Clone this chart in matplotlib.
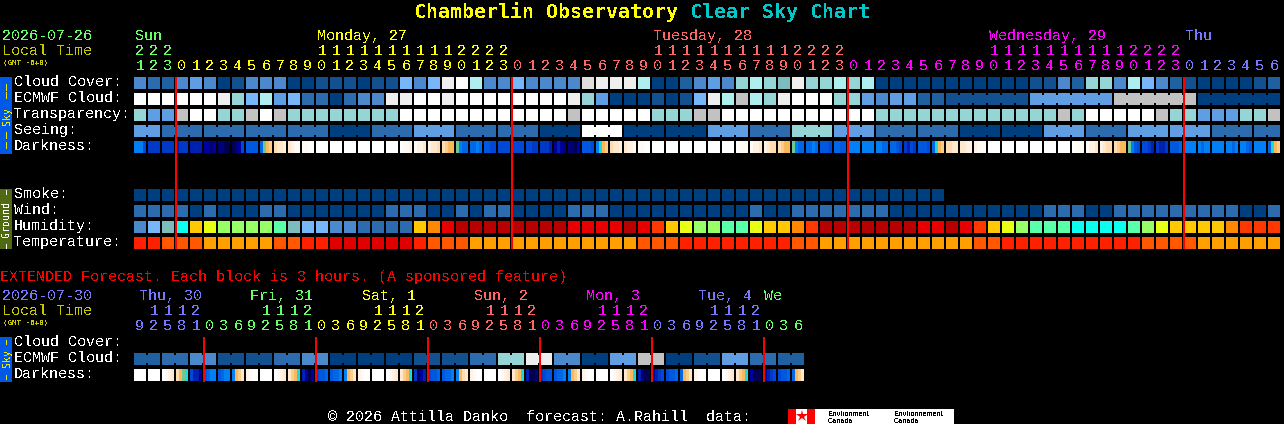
import matplotlib
matplotlib.use('Agg')
import matplotlib.pyplot as plt
import numpy as np
from matplotlib.colors import to_rgb
from matplotlib.patches import Rectangle

# block colours shared by the sky / ground rows
palette = {
    'A': '#003F7F', 'B': '#13508F', 'C': '#1F60A0', 'D': '#2C6CAE', 'E': '#4B88CC',
    'F': '#5F9EE2', 'G': '#76B6F9', 'H': '#AEEEEE', 'I': '#96D5D5', 'J': '#7CBCBC',
    'K': '#C2C2C2', 'L': '#DEDEDE', 'M': '#EEEEEE', 'W': '#FFFFFF',
    # humidity
    'a': '#B80000', 'b': '#E80000', 'c': '#FF3800', 'd': '#FF8800', 'e': '#FFC800',
    'f': '#E8FF14', 'g': '#99FF66', 'h': '#5AFFAA', 'i': '#0CFFEE',
    # temperature
    '1': '#E00000', '2': '#FF2000', '3': '#FF5800', '4': '#FFA000',
}
dark_palette = {
    'n': '#000050', 'o': '#000078', 'p': '#0000A0', 'q': '#0020B0', 'r': '#0038C8',
    's': '#0048D8', 't': '#0058E0', 'u': '#0068E8', 'v': '#0080F4',
    'x': '#20D8D8', 'y': '#70C890', 'z': '#F8B860',
    'A': '#FCCC88', 'B': '#FFDCB0', 'C': '#FFE8CC', 'D': '#FFF2E4', 'E': '#FFFAF4', 'W': '#FFFFFF',
}

# main forecast, one letter per hour, spaces are only for reading
cloud = "EDCEFEABEE EAABBBABBG EGMWHEEGEE EELMMMHAAC EFEIHIJMII HIHAAAAAAA AAAABBECII EHGECBAAAA BC"
ecmwf_hourly = "WWWWWWMIGH FGDDADEEMM WWMWWWWWWW WMIFAAABAB GMHKHIMWWW IIFEFFCC"
transparency = "IFFKWWIIKW KIIIIIIIIW WWWWWWWWWW WKWWWWWIII KKWWWWWWWW WWWIIIIIII IIIIIIKIWW WWWKIIFFFI IK"
smoke = "AAAAAAAAAA AAAAAAAAAA AAAAAAAAAA AAAAAAAAAA AAAAAAAAAA AAAAAAAA"
wind = "DDDDADAAAD DAAAAAAADD DAADADDAAA ADDDAAAAAA AAAADAADDD DDDDAAAAAA AAAAADDDAA DDDDDDDDDA AD"
humidity = "EGJiefgggg hJGGEEDDDD edbaaaaaaa abbbbabcef gghhfeedca aaaaaabbab cefghhhiii ihgfeeeedc cc"
temperature = "2233344444 3322111111 2333444444 4444443332 2222222334 4444444444 3322222222 2233334444 44"

# these come in longer forecast steps, letters of one word are joined blocks
ecmwf_6h = "BBBBBB FFFFFF KKKKKK AAAAAA"
seeing = ("FF DDD DDD DDD DDD AAA DDD FFF DDD DDD AAA WWW AAA AAA FFF DDD III FFF "
          "DDD DDD AAA AAA FFF DDD FFF FFF DDD DD")

# darkness blocks, four colour samples across each block
darkness = ["vvvs", "rrrr", "rrrr", "qrrr", "qqqq", "ppop", "oonn", "nops", "tttt", "uyzA",
            "BCCD", "CDEE", "EEWW", "WWWW", "WWWW", "WWWW", "WWWW", "WWWW", "WWWW", "WEED",
            "EDDC", "DCCB", "BAzz", "yvuu", "uuvu", "ttss", "ssss", "ssss", "ssrr", "rrrq",
            "pqpo", "oonp", "ttts", "vxzA", "BCCD", "CDDE", "EEWW", "WWWW", "WWWW", "WWWW",
            "WWWW", "WWWW", "WWWW", "WEEE", "EDDC", "DCBB", "BAzz", "yvuu", "uuvu", "ttts",
            "uutt", "vvvv", "vvvv", "vvuu", "uuts", "rqsr", "ttts", "uxzA", "BBCC", "CCDD",
            "DEEE", "WWWW", "WWWW", "WWWW", "WWWW", "WWWW", "WWWW", "WEEE", "EDDC", "DCBB",
            "BAzz", "yvts", "ssrq", "rqqr", "tttu", "vvvv", "vuvv", "vvvv", "vvuv", "vvut",
            "vvvv", "uxzA"]

ones = "123" + "012345678901234567890123" * 3 + "0123456"
tens = "222" + "          11111111112222" * 3 + "       "
day_cols = [3, 24, 24, 24, 7]
day_colors = ['#66FF66', '#FFFF00', '#FF6666', '#FF00FF', '#7777FF']
day_names = ["Sun", "Monday, 27", "Tuesday, 28", "Wednesday, 29", "Thu"]
day_x = [135, 317, 653, 989, 1185]
midnights = [3, 27, 51, 75]

# extended forecast, each block is 3 hours
ext_ecmwf = "CC DD EE BB BB DD EE AA AA AA BB BB DD II MM EE AA FF KK AA BB FF DD CC"
ext_darkness = ["WWWW", "WWWW", "WEDC", "Bzyx", "sqqp", "tuvv", "tuvv", "vzAC",
                "DEWW", "WWWW", "WEDC", "CAzx", "qpnp", "sttu", "tuuv", "vzAC",
                "DEWW", "WWWW", "WEDC", "CAzx", "rnpq", "sttu", "tuuv", "vzBC",
                "DEWW", "WWWW", "WEDC", "CAzx", "qnno", "rstt", "tuuv", "vzAC",
                "DEWW", "WWWW", "WEDC", "CAzx", "qonn", "pqrs", "sttu", "uzAC",
                "DEWW", "WWWW", "WEDC", "CAzx", "pnnn", "pqrs", "sttu", "uzAC"]
ext_ones = "92581" + "03692581" * 5 + "036"
ext_tens = " 1112" + "    1112" * 5 + "   "
ext_day_cols = [5, 8, 8, 8, 8, 8, 3]
ext_day_colors = ['#7777FF', '#66FF66', '#FFFF00', '#FF6666', '#FF00FF', '#7777FF', '#66FF66']
ext_day_names = ["Thu, 30", "Fri, 31", "Sat, 1", "Sun, 2", "Mon, 3", "Tue, 4", "We"]
ext_day_x = [139, 250, 362, 474, 586, 698, 764]
ext_midnights = [5, 13, 21, 29, 37, 45]

X0, PITCH, CELL = 134, 14, 12
MONO = 'Liberation Mono'
plt.rcParams['text.antialiased'] = False
plt.rcParams['text.hinting'] = 'force_autohint'

fig = plt.figure(figsize=(12.84, 4.24), dpi=100, facecolor='black')
ax = fig.add_axes([0, 0, 1, 1])
ax.set_facecolor('black')
ax.axis('off')


def label(x, y, s, color='white', size=10.8, **kw):
    kw.setdefault('family', MONO)
    ax.text(x, y, s, color=color, fontsize=size, va='baseline', ha=kw.pop('ha', 'left'), **kw)


def spaced(letters):
    return " ".join(letters.replace(" ", ""))


def block_row(y, words):
    col = 0
    for word in words.split():
        for i, code in enumerate(word):
            x = X0 + col * PITCH
            ax.add_patch(Rectangle((x, y), CELL, CELL, fc=palette[code], lw=0, antialiased=False))
            if i < len(word) - 1:
                ax.add_patch(Rectangle((x + CELL, y + 2), PITCH - CELL, CELL - 4,
                                       fc=palette[code], lw=0, antialiased=False))
            col += 1


def dark_row(y, cells):
    for col, samples in enumerate(cells):
        rgb = np.array([[to_rgb(dark_palette[c]) for c in samples]])
        x = X0 + col * PITCH
        ax.imshow(rgb, extent=(x, x + CELL, y + CELL, y), aspect='auto', interpolation='nearest')


def hour_labels(y_tens, y_ones, tens_s, ones_s, spans, colors):
    colors_per_col = [c for n, c in zip(spans, colors) for _ in range(n)]
    for col, (t, o) in enumerate(zip(tens_s, ones_s)):
        x = X0 + col * PITCH + 6
        if t != ' ':
            label(x, y_tens, t, colors_per_col[col], ha='center')
        label(x, y_ones, o, colors_per_col[col], ha='center')


def side_bar(y0, y1, color, text, text_y, text_color, dashes):
    ax.add_patch(Rectangle((0, y0), 12, y1 - y0, fc=color, lw=0, antialiased=False))
    label(10, text_y, text, text_color, 7.2, family='DejaVu Sans Mono', rotation=90,
          ha='center', rotation_mode='anchor')
    for d0, d1 in dashes:
        ax.vlines(6, d0, d1, color=text_color, lw=0.72, antialiased=False)


def midnight_lines(cols, y0, y1):
    # two pixels wide, same red all the way down
    for m in cols:
        ax.add_patch(Rectangle((X0 + m * PITCH - 1, y0), 2, y1 - y0, fc='#FF0000', lw=0,
                               antialiased=False, zorder=5))


# title
title_y = 18
label(414, title_y, "Chamberlin Observatory", '#FFFF00', 14.4, family='DejaVu Sans Mono', fontweight='bold')
label(690, title_y, "Clear Sky Chart", '#00C8C8', 14.4, family='DejaVu Sans Mono', fontweight='bold')

# main header
label(2, 40, "2026-07-26", '#66FF66')
label(2, 55, "Local Time", '#C8C800')
label(3, 65, "(GMT -6+0)", '#C8C800', 5.4, family='DejaVu Sans Mono', fontweight='bold')
for name, x, c in zip(day_names, day_x, day_colors):
    label(x, 40, name, c)
hour_labels(55, 70, tens, ones, day_cols, day_colors)

# sky rows
side_bar(77, 154, '#0058E8', "Sky", 116, '#E8E800', [(84, 90), (92, 98), (132, 138), (142, 148)])
for y, name in zip([86, 102, 118, 134, 150],
                   ["Cloud Cover:", "ECMWF Cloud:", "Transparency:", "Seeing:", "Darkness:"]):
    label(14, y, name)
block_row(77, spaced(cloud))
block_row(93, spaced(ecmwf_hourly) + " " + ecmwf_6h)
block_row(109, spaced(transparency))
block_row(125, seeing)
dark_row(141, darkness)

# ground rows
side_bar(189, 249, '#4F6A10', "Ground", 219, 'white', [(190, 194), (244, 248)])
for y, name in zip([198, 214, 230, 246], ["Smoke:", "Wind:", "Humidity:", "Temperature:"]):
    label(14, y, name)
block_row(189, spaced(smoke))
block_row(205, spaced(wind))
block_row(221, spaced(humidity))
block_row(237, spaced(temperature))
midnight_lines(midnights, 77, 249)

# extended section
label(0, 281, "EXTENDED Forecast. Each block is 3 hours. (A sponsored feature)", '#FF0000')
label(2, 300, "2026-07-30", '#7777FF')
label(2, 315, "Local Time", '#C8C800')
label(3, 325, "(GMT -6+0)", '#C8C800', 5.4, family='DejaVu Sans Mono', fontweight='bold')
for name, x, c in zip(ext_day_names, ext_day_x, ext_day_colors):
    label(x, 300, name, c)
hour_labels(315, 330, ext_tens, ext_ones, ext_day_cols, ext_day_colors)

side_bar(337, 382, '#0058E8', "Sky", 358, '#E8E800', [(340, 344), (375, 379)])
for y, name in zip([346, 362, 378], ["Cloud Cover:", "ECMWF Cloud:", "Darkness:"]):
    label(14, y, name)
block_row(353, ext_ecmwf)
dark_row(369, ext_darkness)
midnight_lines(ext_midnights, 337, 382)

# footer and logo
label(328, 421, "\u00a9 2026 Attilla Danko  forecast: A.Rahill  data:")
ax.add_patch(Rectangle((788, 409), 166, 15, fc='white', lw=0, antialiased=False))
ax.add_patch(Rectangle((788, 409), 8, 15, fc='#FF0000', lw=0, antialiased=False))
ax.add_patch(Rectangle((807, 409), 8, 15, fc='#FF0000', lw=0, antialiased=False))
ax.plot([801.5], [416], marker='*', ms=9, color='#FF0000', mew=0)
for x, name in [(828, "Environment"), (894, "Environnement")]:
    label(x, 416, name, 'black', 5.2, family='Liberation Sans')
    label(x, 423, "Canada", 'black', 5.2, family='Liberation Sans')

ax.set_xlim(0, 1284)
ax.set_ylim(424, 0)
fig.savefig('out.png', dpi=100, facecolor='black')
plt.close(fig)
